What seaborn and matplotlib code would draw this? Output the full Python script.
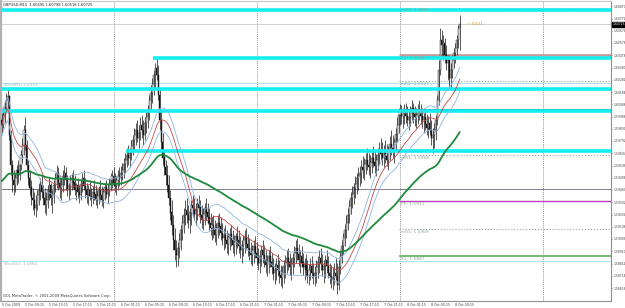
import numpy as np
import pandas as pd
import matplotlib
matplotlib.use("Agg")
import matplotlib.pyplot as plt
import matplotlib.transforms as mtransforms
import seaborn as sns

# ---------------- data (GBPUSD M15) ----------------
high = [
    1.6002, 1.6006, 1.6012, 1.6018, 1.6022, 1.6016, 1.5988, 1.5964,
    1.5956, 1.5954, 1.5960, 1.5964, 1.5966, 1.5972, 1.5982, 1.5992,
    1.5998, 1.5980, 1.5964, 1.5956, 1.5948, 1.5942, 1.5938, 1.5936,
    1.5940, 1.5946, 1.5950, 1.5952, 1.5944, 1.5942, 1.5938, 1.5944,
    1.5950, 1.5946, 1.5940, 1.5948, 1.5954, 1.5960, 1.5958, 1.5952,
    1.5950, 1.5956, 1.5960, 1.5958, 1.5952, 1.5946, 1.5952, 1.5954,
    1.5956, 1.5952, 1.5946, 1.5950, 1.5944, 1.5948, 1.5954, 1.5956,
    1.5950, 1.5946, 1.5944, 1.5948, 1.5942, 1.5943, 1.5948, 1.5944,
    1.5940, 1.5943, 1.5948, 1.5943, 1.5942, 1.5946, 1.5948, 1.5945,
    1.5950, 1.5954, 1.5956, 1.5958, 1.5954, 1.5951, 1.5956, 1.5958,
    1.5959, 1.5962, 1.5966, 1.5970, 1.5974, 1.5976, 1.5974, 1.5980,
    1.5984, 1.5990, 1.5994, 1.5996, 1.5992, 1.5998, 1.6000, 1.5996,
    1.5998, 1.6004, 1.6008, 1.6016, 1.6024, 1.6030, 1.6036, 1.6042,
    1.6046, 1.6040, 1.6020, 1.6004, 1.5986, 1.5972, 1.5964, 1.5960,
    1.5952, 1.5940, 1.5932, 1.5920, 1.5910, 1.5900, 1.5898, 1.5906,
    1.5912, 1.5920, 1.5926, 1.5932, 1.5934, 1.5928, 1.5926, 1.5932,
    1.5936, 1.5934, 1.5930, 1.5934, 1.5936, 1.5932, 1.5928, 1.5926,
    1.5930, 1.5934, 1.5930, 1.5926, 1.5922, 1.5918, 1.5920, 1.5916,
    1.5914, 1.5920, 1.5922, 1.5918, 1.5914, 1.5910, 1.5912, 1.5908,
    1.5906, 1.5910, 1.5912, 1.5908, 1.5904, 1.5906, 1.5911, 1.5908,
    1.5903, 1.5900, 1.5904, 1.5908, 1.5910, 1.5905, 1.5902, 1.5898,
    1.5896, 1.5900, 1.5903, 1.5898, 1.5894, 1.5892, 1.5896, 1.5900,
    1.5896, 1.5892, 1.5888, 1.5892, 1.5895, 1.5890, 1.5886, 1.5882,
    1.5886, 1.5889, 1.5884, 1.5880, 1.5879, 1.5884, 1.5888, 1.5892,
    1.5894, 1.5890, 1.5886, 1.5890, 1.5895, 1.5900, 1.5902, 1.5897,
    1.5892, 1.5895, 1.5890, 1.5886, 1.5889, 1.5884, 1.5881, 1.5886,
    1.5887, 1.5882, 1.5879, 1.5884, 1.5887, 1.5892, 1.5894, 1.5889,
    1.5884, 1.5888, 1.5892, 1.5887, 1.5882, 1.5880, 1.5878, 1.5882,
    1.5886, 1.5882, 1.5884, 1.5892, 1.5900, 1.5906, 1.5913, 1.5920,
    1.5926, 1.5932, 1.5938, 1.5943, 1.5946, 1.5951, 1.5954, 1.5958,
    1.5959, 1.5964, 1.5967, 1.5966, 1.5970, 1.5974, 1.5970, 1.5968,
    1.5972, 1.5975, 1.5972, 1.5969, 1.5974, 1.5978, 1.5982, 1.5978,
    1.5976, 1.5980, 1.5977, 1.5975, 1.5983, 1.5988, 1.5984, 1.5982,
    1.5990, 1.5998, 1.6006, 1.6009, 1.6008, 1.6006, 1.6009, 1.6010,
    1.6007, 1.6004, 1.6007, 1.6012, 1.6010, 1.6007, 1.6006, 1.6009,
    1.6012, 1.6009, 1.6006, 1.6002, 1.6006, 1.6001, 1.5999, 1.6002,
    1.5996, 1.5990, 1.5994, 1.6000, 1.6016, 1.6044, 1.6070, 1.6068,
    1.6064, 1.6062, 1.6056, 1.6048, 1.6048, 1.6042, 1.6048, 1.6054,
    1.6058, 1.6064, 1.6072, 1.60798,
]
low = [
    1.5986, 1.5990, 1.5994, 1.6002, 1.6006, 1.5980, 1.5952, 1.5938,
    1.5936, 1.5938, 1.5944, 1.5946, 1.5948, 1.5956, 1.5962, 1.5968,
    1.5972, 1.5956, 1.5944, 1.5936, 1.5928, 1.5924, 1.5920, 1.5918,
    1.5924, 1.5928, 1.5932, 1.5934, 1.5928, 1.5922, 1.5920, 1.5926,
    1.5932, 1.5928, 1.5922, 1.5930, 1.5938, 1.5942, 1.5940, 1.5934,
    1.5932, 1.5938, 1.5944, 1.5940, 1.5935, 1.5932, 1.5936, 1.5940,
    1.5942, 1.5936, 1.5932, 1.5934, 1.5930, 1.5932, 1.5938, 1.5940,
    1.5934, 1.5930, 1.5928, 1.5932, 1.5927, 1.5929, 1.5932, 1.5928,
    1.5926, 1.5929, 1.5932, 1.5927, 1.5926, 1.5932, 1.5934, 1.5930,
    1.5935, 1.5940, 1.5942, 1.5943, 1.5938, 1.5936, 1.5940, 1.5943,
    1.5944, 1.5948, 1.5950, 1.5954, 1.5958, 1.5960, 1.5958, 1.5964,
    1.5968, 1.5972, 1.5976, 1.5978, 1.5974, 1.5980, 1.5982, 1.5976,
    1.5980, 1.5986, 1.5990, 1.5996, 1.6004, 1.6010, 1.6016, 1.6022,
    1.6028, 1.6012, 1.5988, 1.5972, 1.5960, 1.5952, 1.5944, 1.5938,
    1.5928, 1.5916, 1.5904, 1.5892, 1.5884, 1.5878, 1.5879, 1.5886,
    1.5892, 1.5900, 1.5906, 1.5912, 1.5914, 1.5910, 1.5906, 1.5912,
    1.5918, 1.5916, 1.5912, 1.5916, 1.5920, 1.5914, 1.5910, 1.5908,
    1.5912, 1.5916, 1.5913, 1.5908, 1.5904, 1.5900, 1.5902, 1.5898,
    1.5896, 1.5902, 1.5904, 1.5900, 1.5896, 1.5892, 1.5894, 1.5890,
    1.5888, 1.5892, 1.5895, 1.5890, 1.5887, 1.5889, 1.5894, 1.5890,
    1.5886, 1.5882, 1.5887, 1.5890, 1.5892, 1.5887, 1.5884, 1.5881,
    1.5879, 1.5882, 1.5886, 1.5880, 1.5876, 1.5874, 1.5879, 1.5882,
    1.5878, 1.5874, 1.5871, 1.5874, 1.5878, 1.5873, 1.5868, 1.5865,
    1.5868, 1.5871, 1.5866, 1.5863, 1.5862, 1.5866, 1.5870, 1.5874,
    1.5876, 1.5872, 1.5868, 1.5873, 1.5878, 1.5882, 1.5884, 1.5879,
    1.5874, 1.5878, 1.5872, 1.5868, 1.5871, 1.5866, 1.5864, 1.5868,
    1.5870, 1.5865, 1.5863, 1.5866, 1.5870, 1.5874, 1.5876, 1.5871,
    1.5866, 1.5870, 1.5874, 1.5870, 1.5865, 1.5862, 1.5860, 1.5864,
    1.5868, 1.5857, 1.5860, 1.5873, 1.5882, 1.5889, 1.5895, 1.5902,
    1.5908, 1.5914, 1.5921, 1.5926, 1.5929, 1.5934, 1.5937, 1.5940,
    1.5943, 1.5946, 1.5950, 1.5948, 1.5953, 1.5956, 1.5952, 1.5950,
    1.5954, 1.5958, 1.5954, 1.5951, 1.5956, 1.5961, 1.5964, 1.5960,
    1.5958, 1.5962, 1.5959, 1.5956, 1.5964, 1.5968, 1.5966, 1.5962,
    1.5972, 1.5978, 1.5986, 1.5992, 1.5993, 1.5990, 1.5993, 1.5994,
    1.5991, 1.5988, 1.5991, 1.5996, 1.5994, 1.5991, 1.5990, 1.5993,
    1.5996, 1.5993, 1.5990, 1.5986, 1.5988, 1.5984, 1.5982, 1.5984,
    1.5976, 1.5970, 1.5974, 1.5980, 1.5992, 1.6008, 1.6032, 1.6048,
    1.6044, 1.6042, 1.6036, 1.6028, 1.6022, 1.6020, 1.6030, 1.6038,
    1.6042, 1.6048, 1.6054, 1.60518,
]
close = [
    1.5992, 1.6000, 1.6006, 1.6012, 1.6015, 1.5984, 1.5960, 1.5948,
    1.5944, 1.5950, 1.5956, 1.5952, 1.5960, 1.5968, 1.5976, 1.5988,
    1.5976, 1.5960, 1.5950, 1.5942, 1.5934, 1.5932, 1.5926, 1.5928,
    1.5936, 1.5940, 1.5944, 1.5938, 1.5934, 1.5928, 1.5932, 1.5940,
    1.5944, 1.5934, 1.5936, 1.5944, 1.5950, 1.5954, 1.5946, 1.5942,
    1.5944, 1.5951, 1.5954, 1.5948, 1.5940, 1.5943, 1.5948, 1.5950,
    1.5946, 1.5940, 1.5944, 1.5938, 1.5936, 1.5945, 1.5950, 1.5943,
    1.5940, 1.5936, 1.5940, 1.5935, 1.5934, 1.5938, 1.5937, 1.5932,
    1.5935, 1.5940, 1.5936, 1.5932, 1.5938, 1.5942, 1.5937, 1.5940,
    1.5945, 1.5948, 1.5951, 1.5946, 1.5943, 1.5948, 1.5951, 1.5950,
    1.5954, 1.5956, 1.5961, 1.5964, 1.5968, 1.5966, 1.5970, 1.5975,
    1.5980, 1.5984, 1.5988, 1.5982, 1.5986, 1.5992, 1.5988, 1.5984,
    1.5994, 1.5998, 1.6004, 1.6012, 1.6018, 1.6025, 1.6032, 1.6038,
    1.6032, 1.6016, 1.5996, 1.5978, 1.5966, 1.5958, 1.5952, 1.5944,
    1.5934, 1.5922, 1.5912, 1.5900, 1.5892, 1.5888, 1.5894, 1.5900,
    1.5908, 1.5914, 1.5920, 1.5924, 1.5920, 1.5916, 1.5922, 1.5928,
    1.5926, 1.5921, 1.5924, 1.5929, 1.5926, 1.5920, 1.5916, 1.5921,
    1.5926, 1.5922, 1.5918, 1.5914, 1.5910, 1.5912, 1.5908, 1.5904,
    1.5910, 1.5914, 1.5911, 1.5906, 1.5902, 1.5904, 1.5900, 1.5897,
    1.5902, 1.5905, 1.5900, 1.5896, 1.5898, 1.5903, 1.5900, 1.5895,
    1.5892, 1.5896, 1.5900, 1.5902, 1.5897, 1.5894, 1.5890, 1.5888,
    1.5892, 1.5895, 1.5890, 1.5886, 1.5882, 1.5887, 1.5892, 1.5888,
    1.5884, 1.5880, 1.5882, 1.5887, 1.5882, 1.5878, 1.5874, 1.5876,
    1.5880, 1.5876, 1.5872, 1.5870, 1.5874, 1.5879, 1.5882, 1.5886,
    1.5882, 1.5878, 1.5881, 1.5886, 1.5890, 1.5894, 1.5889, 1.5884,
    1.5887, 1.5882, 1.5878, 1.5881, 1.5876, 1.5872, 1.5876, 1.5879,
    1.5874, 1.5871, 1.5874, 1.5878, 1.5882, 1.5886, 1.5881, 1.5876,
    1.5879, 1.5884, 1.5879, 1.5874, 1.5871, 1.5868, 1.5870, 1.5874,
    1.5871, 1.5864, 1.5878, 1.5887, 1.5895, 1.5902, 1.5908, 1.5914,
    1.5920, 1.5927, 1.5934, 1.5937, 1.5942, 1.5945, 1.5950, 1.5951,
    1.5954, 1.5958, 1.5956, 1.5961, 1.5964, 1.5960, 1.5958, 1.5962,
    1.5966, 1.5962, 1.5959, 1.5964, 1.5968, 1.5972, 1.5969, 1.5966,
    1.5970, 1.5967, 1.5964, 1.5972, 1.5977, 1.5974, 1.5972, 1.5978,
    1.5985, 1.5992, 1.6000, 1.6002, 1.5999, 1.6001, 1.6004, 1.5999,
    1.5996, 1.5998, 1.6002, 1.6006, 1.6001, 1.5998, 1.6000, 1.6004,
    1.6002, 1.5999, 1.5996, 1.5998, 1.5993, 1.5990, 1.5994, 1.5988,
    1.5982, 1.5984, 1.5988, 1.5996, 1.6012, 1.6036, 1.6060, 1.6056,
    1.6058, 1.6048, 1.6042, 1.6044, 1.6030, 1.6036, 1.6044, 1.6050,
    1.6054, 1.6060, 1.60695, 1.60725,
]
first_open = 1.5996
green_seed = 1.5946     # value of the long average just before the first bar

time_labels = ["5 Oct 2009", "5 Oct 09:15", "5 Oct 13:15", "5 Oct 17:15", "5 Oct 21:15",
               "6 Oct 01:15", "6 Oct 05:15", "6 Oct 09:15", "6 Oct 13:15", "6 Oct 17:15",
               "6 Oct 21:15", "7 Oct 01:15", "7 Oct 05:15", "7 Oct 09:15", "7 Oct 13:15",
               "7 Oct 17:15", "7 Oct 21:15", "8 Oct 01:15", "8 Oct 05:15", "8 Oct 09:15"]
day_start_bars = [75, 171, 267, 363]          # 00:00 of 6, 7, 8, 9 Oct

price_ticks = [1.60870, 1.60772, 1.60674, 1.60576, 1.60478, 1.60380, 1.60282, 1.60184,
               1.60086, 1.59988, 1.59890, 1.59792, 1.59694, 1.59596, 1.59498, 1.59400,
               1.59302, 1.59204, 1.59106, 1.59008, 1.58910, 1.58812, 1.58714, 1.58616]
bid = 1.60725

cyan_levels = [1.6084, 1.60456, 1.60208, 1.60032, 1.59712]
cyan_start = [0, 102, 0, 0, 84]
week_labels = ["WeekR1: 1.6023", "WeekS1: 1.5884"]
week_levels = [1.6026, 1.5883]
other_line = 1.59408

pivot_names = ["mR3", "R2", "mR2", "R1", "mR1", "PP", "mS1", "S1"]
pivot_values = [1.6086, 1.6048, 1.6027, 1.6004, 1.5968, 1.5931, 1.5909, 1.5887]
pivot_colors = ["#a0a0a0", "#c89a9a", "#a0a0a0", "#203838", "#a0a0a0", "#c040c0", "#a0a0a0", "#70bb70"]
pivot_styles = [":", "-", ":", "-", ":", "-", ":", "-"]
pivot_widths = [0.8, 2.0, 0.8, 1.2, 0.8, 1.0, 0.8, 1.4]
pivot_start_bar = 266

# ---------------- figure ----------------
sns.set_style("white")
plt.rcParams['font.family'] = ['DejaVu Sans']

W, H = 625, 308
fig = plt.figure(figsize=(W / 100, H / 100), dpi=100)
fig.patch.set_facecolor("white")
ax = fig.add_axes([1 / W, 7 / H, 610 / W, 300 / H])
ax.set_facecolor("white")

n = min(len(high), len(low), len(close))
hi = np.array(high[:n]); lo = np.array(low[:n]); cl = np.array(close[:n])
op = np.concatenate([[first_open], cl[:-1]])
xs = np.arange(n)

XMAX = 408.4
ax.set_xlim(-0.4, XMAX)
ax.set_ylim(1.58512, 1.60912)

for lv, st in zip(cyan_levels, cyan_start):
    ax.hlines(lv, st - 0.4, XMAX, color="#14eef0", lw=2.6, zorder=4)
for lab, lv in zip(week_labels, week_levels):
    ax.hlines(lv, -0.4, XMAX, color="#8fe4ee", lw=0.6, zorder=2)
    ax.text(1.5, lv - 0.00003, lab, fontsize=3.0, color="#a8b8b8", va="top", ha="left", zorder=6)
ax.hlines(other_line, -0.4, XMAX, color="#6a6a80", lw=0.6, zorder=2)
ax.hlines(bid, -0.4, XMAX, color="#c0c0c0", lw=0.5, zorder=2)

for nm, v, c, ls, lw in zip(pivot_names, pivot_values, pivot_colors, pivot_styles, pivot_widths):
    ax.hlines(v, pivot_start_bar, XMAX, color=c, lw=lw, linestyles=ls, zorder=3)
    ax.text(pivot_start_bar + 2, v - 0.00007, f"{nm}: {v:.4f}", fontsize=3.2,
            color="#8fa88f", va="top", ha="left", zorder=6)

for b in day_start_bars:
    ax.axvline(b, color="#707070", lw=0.5, ls=(0, (1.5, 1.5)), zorder=1)

# moving averages computed from the closes
s = pd.Series(cl)
ma_red = s.rolling(24, min_periods=1).mean()
ma_green = pd.Series(np.concatenate([[green_seed], cl])).ewm(span=89, adjust=False).mean().iloc[1:].to_numpy()
df = pd.DataFrame({"bar": xs, "red": ma_red, "up": ma_red * 1.0006,
                   "dn": ma_red * 0.9994, "green": ma_green})
sns.lineplot(data=df, x="bar", y="up", ax=ax, color="#8fb4e0", lw=0.6, zorder=5)
sns.lineplot(data=df, x="bar", y="dn", ax=ax, color="#8fb4e0", lw=0.6, zorder=5)
sns.lineplot(data=df, x="bar", y="red", ax=ax, color="#c84848", lw=0.6, zorder=5)
sns.lineplot(data=df, x="bar", y="green", ax=ax, color="#1e8a3c", lw=1.3, zorder=5)

ax.vlines(xs, lo, hi, color="#151515", lw=0.5, zorder=3)
body_lo = np.minimum(op, cl)
body_h = np.maximum(np.abs(cl - op), 0.00002)
ax.bar(xs, body_h, bottom=body_lo, width=0.7,
       color=np.where(cl >= op, "white", "#151515"),
       edgecolor="#151515", linewidth=0.3, zorder=3)

ax.set_xlabel(""); ax.set_ylabel("")
ax.yaxis.tick_right()
ax.set_yticks(price_ticks)
ax.set_yticklabels([f"{v:.5f}" for v in price_ticks])
ax.tick_params(axis="y", length=1.0, width=0.5, labelsize=2.2, pad=0.8,
               colors="#606060", labelcolor="#404040")
label_bars = np.arange(0, 16 * len(time_labels), 16)
ax.set_xticks(label_bars)
ax.set_xticklabels(time_labels)
ax.tick_params(axis="x", length=1.2, width=0.5, labelsize=2.3, pad=0.6,
               colors="#606060", labelcolor="#404040")
for t in ax.get_xticklabels():
    t.set_ha("left")
for side, sp in ax.spines.items():
    sp.set_visible(True)
    sp.set_color("#909090")
    sp.set_linewidth(0.8)
ax.spines["left"].set_linewidth(1.6)
ax.spines["left"].set_color("#b0b0b0")
ax.spines["top"].set_color("#c8c8c8")

trans = mtransforms.blended_transform_factory(ax.transAxes, ax.transData)
ax.text(1.002, bid, f"{bid:.5f}", transform=trans, fontsize=2.2, color="white",
        va="center", ha="left", zorder=10,
        bbox=dict(boxstyle="square,pad=0.1", fc="black", ec="black"))

ax.text(0.004, 0.995, "GBPUSD,M15  1.60695 1.60798 1.60518 1.60725", transform=ax.transAxes,
        fontsize=2.6, color="#202020", va="top", ha="left", zorder=10)
ax.text(312, bid, "< 8231", fontsize=3.2, color="#e0a040", va="center", ha="left", zorder=10)
ax.text(0.004, 0.01, "GOL MetaTrader, \u00a9 2001-2009 MetaQuotes Software Corp.",
        transform=ax.transAxes, fontsize=2.6, color="#303030", va="bottom", ha="left", zorder=10)

fig.savefig("out.png", dpi=100, facecolor="white")
